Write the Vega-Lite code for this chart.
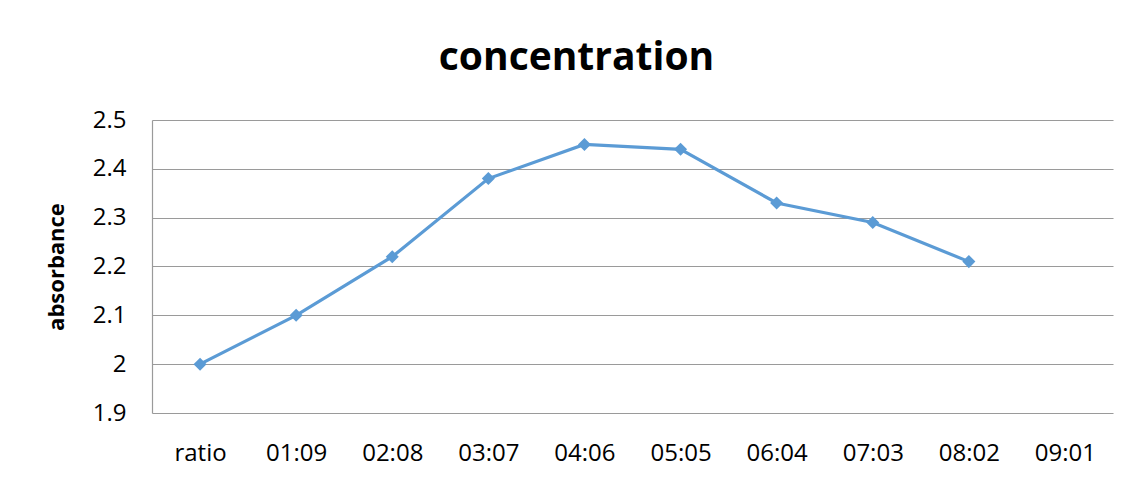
{
  "$schema": "https://vega.github.io/schema/vega-lite/v6.json",
  "autosize": {"type": "none"},
  "width": 961,
  "height": 293,
  "padding": {"left": 152, "top": 120, "right": 20, "bottom": 84},
  "background": "white",
  "title": {
    "text": "concentration",
    "font": "Open Sans",
    "fontSize": 39,
    "fontWeight": "bold",
    "color": "#000000",
    "anchor": "middle",
    "dx": -56,
    "offset": 30
  },
  "config": {
    "view": {"stroke": null},
    "font": "Open Sans"
  },
  "data": {
    "values": [
      {"ratio": "ratio", "absorbance": 2.0},
      {"ratio": "01:09", "absorbance": 2.1},
      {"ratio": "02:08", "absorbance": 2.22},
      {"ratio": "03:07", "absorbance": 2.38},
      {"ratio": "04:06", "absorbance": 2.45},
      {"ratio": "05:05", "absorbance": 2.44},
      {"ratio": "06:04", "absorbance": 2.33},
      {"ratio": "07:03", "absorbance": 2.29},
      {"ratio": "08:02", "absorbance": 2.21},
      {"ratio": "09:01", "absorbance": null}
    ]
  },
  "encoding": {
    "x": {
      "field": "ratio",
      "type": "ordinal",
      "sort": null,
      "scale": {
        "type": "point",
        "padding": 0.5,
        "domain": ["ratio", "01:09", "02:08", "03:07", "04:06", "05:05", "06:04", "07:03", "08:02", "09:01"]
      },
      "axis": {
        "title": null,
        "labelAngle": 0,
        "labelFont": "Open Sans",
        "labelFontSize": 24,
        "labelColor": "#000000",
        "labelPadding": 28,
        "ticks": false,
        "domain": false,
        "grid": false
      }
    },
    "y": {
      "field": "absorbance",
      "type": "quantitative",
      "scale": {"domain": [1.9, 2.5], "zero": false, "nice": false},
      "axis": {
        "title": "absorbance",
        "titleFont": "Open Sans",
        "titleFontSize": 22,
        "titleFontWeight": "bold",
        "titleColor": "#000000",
        "titlePadding": 24,
        "values": [1.9, 2.0, 2.1, 2.2, 2.3, 2.4, 2.5],
        "format": "~g",
        "labelFont": "Open Sans",
        "labelFontSize": 24,
        "labelColor": "#000000",
        "labelPadding": 26,
        "ticks": false,
        "domain": true,
        "domainColor": "#9a9a9a",
        "domainWidth": 1.2,
        "grid": true,
        "gridColor": "#9a9a9a",
        "gridWidth": 1.2,
        "gridOpacity": 1
      }
    }
  },
  "layer": [
    {
      "mark": {"type": "line", "color": "#5B9BD5", "strokeWidth": 3.2}
    },
    {
      "mark": {"type": "point", "shape": "diamond", "filled": true, "color": "#5B9BD5", "opacity": 1, "size": 170}
    }
  ]
}
